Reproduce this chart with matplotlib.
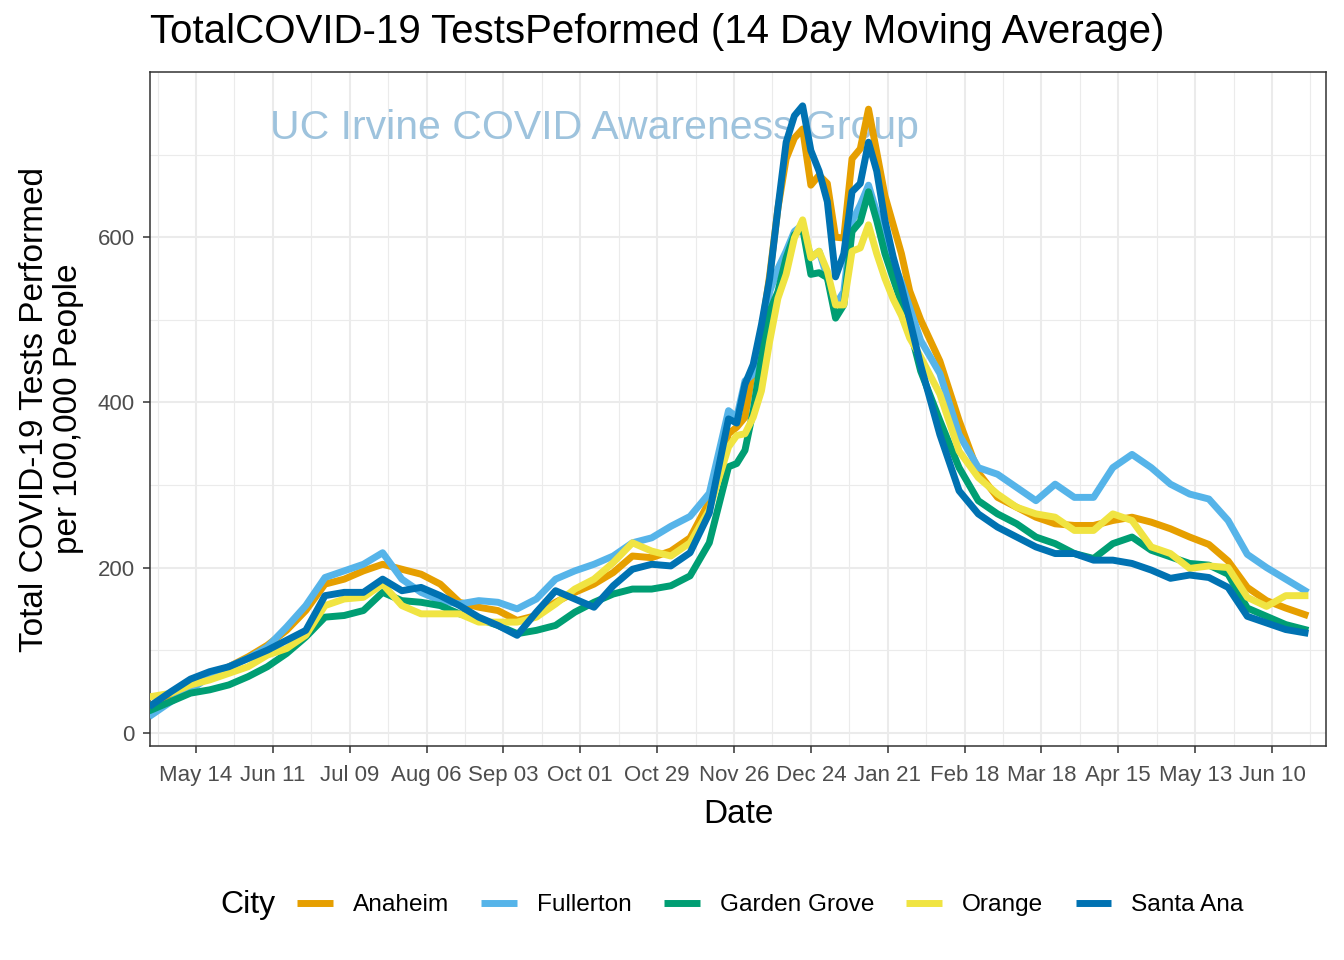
import numpy as np
import pandas as pd
import matplotlib
matplotlib.use("Agg")
import matplotlib.pyplot as plt
import matplotlib.dates as mdates

plt.rcParams['font.family'] = ['Liberation Sans', 'DejaVu Sans']

# weekly readings, every 3 days across the winter peak, then weekly again
dates = (list(pd.date_range("2020-04-28", "2020-11-24", freq="7D"))
         + list(pd.date_range("2020-11-27", "2021-01-29", freq="3D"))
         + list(pd.date_range("2021-02-02", "2021-06-22", freq="7D")))

anaheim = [34, 44, 60, 68, 80, 92, 106, 124, 148, 180, 186, 196, 204, 198, 192, 180, 158, 152, 148, 136,
           142, 158, 170, 180, 194, 214, 212, 220, 236, 280, 362,
           370, 382, 442, 486, 554, 635, 695, 720, 731, 663, 675, 665, 600, 599, 695, 707, 755, 703, 650, 615,
           580, 535,
           500, 450, 378, 315, 285, 273, 261, 253, 251, 251, 257, 261, 255, 247, 237, 228, 208, 176, 160, 151, 143]
fullerton = [22, 38, 52, 68, 80, 90, 104, 128, 154, 188, 196, 204, 218, 186, 170, 160, 156, 160, 158, 150,
             162, 186, 196, 204, 214, 230, 236, 250, 262, 290, 390,
             382, 426, 434, 482, 534, 562, 583, 607, 615, 575, 583, 551, 518, 534, 619, 639, 663, 630, 600, 570,
             545, 515,
             475, 435, 361, 321, 313, 297, 281, 301, 285, 285, 321, 337, 321, 301, 289, 283, 257, 216, 200, 186, 172]
garden_grove = [28, 38, 48, 52, 58, 68, 80, 96, 116, 140, 142, 148, 170, 160, 158, 154, 144, 138, 130, 120,
                124, 130, 146, 158, 168, 174, 174, 178, 190, 230, 322,
                326, 342, 390, 454, 510, 534, 575, 603, 611, 555, 557, 551, 502, 518, 607, 619, 655, 620, 580, 550,
                520, 490,
                438, 378, 321, 281, 265, 253, 237, 229, 217, 211, 229, 237, 221, 213, 205, 203, 192, 151, 141, 131, 125]
orange_city = [44, 48, 58, 64, 72, 80, 94, 102, 118, 154, 162, 164, 180, 154, 144, 144, 144, 134, 134, 134,
               140, 156, 174, 186, 206, 230, 220, 214, 230, 270, 346,
               360, 362, 382, 414, 474, 526, 555, 599, 621, 575, 583, 559, 518, 518, 583, 587, 615, 580, 550, 525,
               505, 478,
               455, 410, 341, 309, 289, 273, 265, 261, 245, 245, 265, 257, 225, 217, 199, 202, 200, 164, 153, 166, 166]
santa_ana = [34, 50, 65, 74, 80, 90, 100, 112, 124, 166, 170, 170, 186, 172, 176, 166, 154, 140, 130, 118,
             146, 172, 162, 152, 178, 198, 204, 202, 218, 266, 380,
             375, 422, 446, 494, 550, 635, 715, 747, 759, 705, 680, 643, 552, 580, 655, 665, 715, 680, 620, 576,
             540, 500,
             445, 361, 293, 265, 249, 237, 225, 217, 217, 209, 209, 205, 197, 187, 191, 188, 176, 141, 133, 125, 121]

cities = ["Anaheim", "Fullerton", "Garden Grove", "Orange", "Santa Ana"]
series = [anaheim, fullerton, garden_grove, orange_city, santa_ana]
colors = ["#E69F00", "#56B4E9", "#009E73", "#F0E442", "#0072B2"]

tick_dates = pd.date_range("2020-05-14", periods=15, freq="28D")
minor_dates = pd.date_range("2020-04-30", periods=16, freq="28D")

fig = plt.figure(figsize=(13.44, 9.6), dpi=100)
ax = fig.add_axes([150/1344, 1-746/960, (1326-150)/1344, (746-72)/960])

ax.text(pd.Timestamp("2020-10-06"), 732, "UC Irvine COVID Awareness Group", color="#9EC3DD",
        fontsize=29.5, ha="center", va="center", zorder=1)

for name, vals, c in zip(cities, series, colors):
    ax.plot(dates, vals, color=c, lw=5, label=name, zorder=3, solid_joinstyle="round")

ax.set_xlim(pd.Timestamp("2020-04-27 06:00"), pd.Timestamp("2021-06-29 16:00"))
ax.set_ylim(-16, 800)
ax.set_xticks(tick_dates)
ax.set_xticks(minor_dates, minor=True)
ax.xaxis.set_major_formatter(mdates.DateFormatter("%b %d"))
ax.set_yticks([0, 200, 400, 600])
ax.set_yticks([100, 300, 500, 700], minor=True)
ax.grid(which="major", color="#EBEBEB", lw=1.5, zorder=0)
ax.grid(which="minor", color="#EBEBEB", lw=0.8, zorder=0)
ax.set_axisbelow(True)
ax.tick_params(which="major", length=5, width=1.1, color="#333333", labelcolor="#4D4D4D", labelsize=16)
ax.tick_params(axis="x", which="major", pad=9)
ax.tick_params(axis="y", which="major", pad=6)
ax.tick_params(which="minor", length=0)
for s in ax.spines.values():
    s.set_color("#333333")
    s.set_linewidth(1.1)

ax.set_xlabel("Date", fontsize=24, labelpad=9)
ax.set_ylabel("Total COVID-19 Tests Performed\nper 100,000 People", fontsize=24, labelpad=10, linespacing=1.1)
fig.text(150/1344, 1-32/960, "TotalCOVID-19 TestsPeformed (14 Day Moving Average)", fontsize=29,
         ha="left", va="center")

fig.text(220/1344, 1-905/960, "City", fontsize=23, ha="left", va="center")
leg = fig.legend(loc="center left", bbox_to_anchor=(297/1344, 1-905/960), ncol=5, frameon=False,
                 fontsize=17.6, handlelength=1.47, handletextpad=0.82, columnspacing=1.31,
                 borderpad=0, borderaxespad=0)
for h in leg.get_lines():
    h.set_linewidth(5)
    h.set_solid_capstyle("butt")

fig.savefig("out.png", dpi=100)
